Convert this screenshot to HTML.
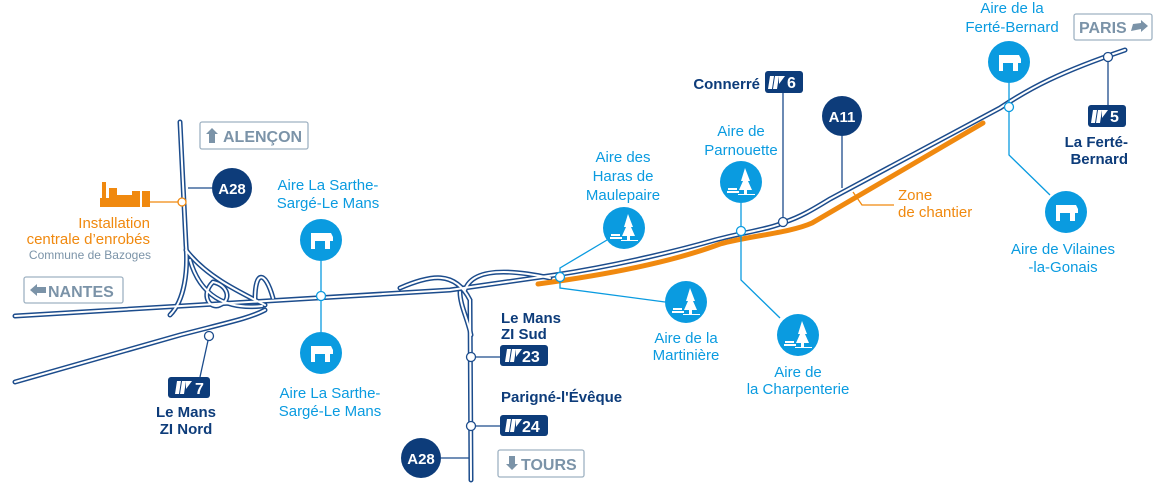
<!DOCTYPE html>
<html><head><meta charset="utf-8"><style>
html,body{margin:0;padding:0;background:#fff;}
svg{display:block;font-family:"Liberation Sans",sans-serif;}
.lb{fill:#0a9be0;font-size:15px;}
.db{fill:#0d3c7a;font-size:15px;font-weight:bold;}
.sg{fill:#7b93a8;font-size:16px;font-weight:bold;}
</style></head><body>
<svg width="1162" height="486" viewBox="0 0 1162 486" xmlns="http://www.w3.org/2000/svg">
<defs>
<g id="rest"><circle r="21" fill="#0a9be0"/><path d="M-10,-7 L10,-7 L12,-3 L12,1 L9,1 L9,9 L4,9 L4,1 L-6,1 L-6,9 L-10,9 Z M-5,3 L0,3 L0,6 L-5,6Z" fill="#fff" fill-rule="evenodd"/><rect x="-6" y="3" width="7" height="3" fill="#0a9be0"/></g>
<g id="tree"><circle r="21" fill="#0a9be0"/><path d="M4,-14 L9,-1 L7,-1 L11,8 L6,8 L6,12 L3,12 L3,8 L-2,8 L2,-1 L0,-1 Z" fill="#fff"/><path d="M-14,9 L-2,9 L-2,11 L-14,11 Z M-13,6 L-4,6 L-4,8 L-13,8Z M-3,12 L14,12 L14,13 L-3,13Z" fill="#fff"/></g>
<g id="exi"><path d="M3,4 L7,4 L5,17 L1,17Z M8,4 L12,4 L10,17 L6,17Z M12,4 L18,4 L12,12Z" fill="#fff"/></g>
</defs>

<!-- roads -->
<g fill="none" stroke-linecap="round">
<g stroke="#1c4c8c" stroke-width="5">
<path d="M15,316 L450,290 L555,275 C620,265 680,250 715,240 C745,232 770,229 785,222 C800,217 812,210 830,199 L1000,108 C1030,88 1060,72 1125,50"/>
<path d="M15,382 L180,335 C230,322 250,318 265,310"/>
<path d="M180,122 L186,245 C188,270 185,300 170,315"/>
<path d="M186,250 C205,275 235,290 265,305"/>
<path d="M190,260 C200,295 225,310 262,306"/>
<path d="M213,282 C200,295 210,310 220,305 C232,300 228,285 213,282"/>
<path d="M255,300 C255,270 265,270 273,298"/>
<path d="M400,288 C430,275 455,270 470,300 L471,480"/>
<path d="M465,290 C470,275 490,265 550,278"/>
<path d="M460,292 C460,305 468,320 471,335"/>
</g>
<g stroke="#fff" stroke-width="2">
<path d="M15,316 L450,290 L555,275 C620,265 680,250 715,240 C745,232 770,229 785,222 C800,217 812,210 830,199 L1000,108 C1030,88 1060,72 1125,50"/>
<path d="M15,382 L180,335 C230,322 250,318 265,310"/>
<path d="M180,122 L186,245 C188,270 185,300 170,315"/>
<path d="M186,250 C205,275 235,290 265,305"/>
<path d="M190,260 C200,295 225,310 262,306"/>
<path d="M213,282 C200,295 210,310 220,305 C232,300 228,285 213,282"/>
<path d="M255,300 C255,270 265,270 273,298"/>
<path d="M400,288 C430,275 455,270 470,300 L471,480"/>
<path d="M465,290 C470,275 490,265 550,278"/>
<path d="M460,292 C460,305 468,320 471,335"/>
</g>
<path d="M538,284 C620,273 680,259 720,244 C748,236 790,233 812,223 L983,123" stroke="#f0890f" stroke-width="5"/>
</g>

<!-- connector lines -->
<g stroke="#0a9be0" stroke-width="1.3" fill="none">
<path d="M321,261 L321,332"/>
<path d="M607,240 L560,268 L560,288 L665,302"/>
<path d="M741,203 L741,280 L780,318"/>
<path d="M1009,83 L1009,155 L1050,195"/>
</g>
<g stroke="#1c4c8c" stroke-width="1.3" fill="none">
<path d="M188,188 L212,188"/><path d="M200,377 L209,336"/>
<path d="M471,357 L500,357"/><path d="M471,426 L500,426"/><path d="M441,458 L469,458"/>
<path d="M783,93 L783,222"/><path d="M842,136 L842,188"/><path d="M1108,57 L1108,105"/>
</g>
<path d="M150,202 L182,202" stroke="#f0890f" stroke-width="1.3"/>
<path d="M853,192 L862,205 L894,205" stroke="#f0890f" stroke-width="1.3" fill="none"/>
<g fill="#fff" stroke="#1c4c8c" stroke-width="1.3">
<circle cx="321" cy="296" r="4.5" stroke="#0a9be0"/><circle cx="209" cy="336" r="4.5"/>
<circle cx="471" cy="357" r="4.5"/><circle cx="471" cy="426" r="4.5"/>
<circle cx="560" cy="277" r="4.5" stroke="#0a9be0"/><circle cx="741" cy="231" r="4.5" stroke="#0a9be0"/>
<circle cx="783" cy="222" r="4.5"/><circle cx="1009" cy="107" r="4.5" stroke="#0a9be0"/>
<circle cx="1108" cy="57" r="4.5"/><circle cx="182" cy="202" r="4" stroke="#f0890f"/>
</g>

<!-- factory -->
<path d="M100,207 L100,198 L102,198 L102,182 L106,182 L106,198 L109,198 L109,188 L117,188 L117,195 L132,195 L132,207 Z" fill="#f0890f"/>
<rect x="132" y="191" width="8" height="16" fill="#f0890f"/><rect x="142" y="191" width="8" height="16" fill="#f0890f"/>
<text x="150" y="228" text-anchor="end" fill="#f0890f" font-size="15">Installation</text>
<text x="150" y="244" text-anchor="end" fill="#f0890f" font-size="15">centrale d’enrobés</text>
<text x="151" y="259" text-anchor="end" fill="#7b93a8" font-size="12">Commune de Bazoges</text>

<!-- signs -->
<g fill="#fff" stroke="#9fb2c2" stroke-width="1.3">
<rect x="200" y="122" width="108" height="27" rx="2"/><rect x="24" y="277" width="99" height="26" rx="2"/>
<rect x="498" y="450" width="86" height="27" rx="2"/><rect x="1074" y="14" width="78" height="26" rx="2"/>
</g>
<path d="M212,128 L218,134 L215,134 L215,143 L209,143 L209,134 L206,134Z" fill="#7b93a8"/>
<text x="223" y="142" class="sg">ALENÇON</text>
<path d="M30,290 L37,284 L37,287 L46,287 L46,293 L37,293 L37,296Z" fill="#7b93a8"/>
<text x="48" y="297" class="sg">NANTES</text>
<path d="M512,470 L518,464 L515,464 L515,456 L509,456 L509,464 L506,464Z" fill="#7b93a8"/>
<text x="521" y="470" class="sg">TOURS</text>
<text x="1079" y="33" class="sg">PARIS</text>
<path d="M1148,26 L1141,20 L1141,23 L1133,24 L1131,31 L1141,29 L1141,32Z" fill="#7b93a8"/>

<!-- motorway circles -->
<g fill="#0d3c7a"><circle cx="232" cy="188" r="20"/><circle cx="421" cy="458" r="20"/><circle cx="842" cy="116" r="20"/></g>
<g fill="#fff" font-size="15" font-weight="bold" text-anchor="middle">
<text x="232" y="194">A28</text><text x="421" y="464">A28</text><text x="842" y="122">A11</text></g>

<!-- exit badges -->
<g fill="#0d3c7a">
<rect x="168" y="377" width="42" height="21" rx="3"/><rect x="500" y="345" width="48" height="21" rx="3"/>
<rect x="500" y="415" width="48" height="21" rx="3"/><rect x="765" y="71" width="38" height="22" rx="3"/>
<rect x="1088" y="105" width="38" height="22" rx="3"/></g>
<use href="#exi" x="174" y="377"/><use href="#exi" x="504" y="345"/><use href="#exi" x="504" y="415"/>
<use href="#exi" x="767" y="72"/><use href="#exi" x="1090" y="106"/>
<g fill="#fff" font-size="16" font-weight="bold">
<text x="195" y="394">7</text><text x="522" y="362">23</text><text x="522" y="432">24</text>
<text x="787" y="88">6</text><text x="1110" y="122">5</text></g>

<!-- aire icons -->
<use href="#rest" x="321" y="240"/><use href="#rest" x="321" y="353"/>
<use href="#rest" x="1009" y="62"/><use href="#rest" x="1066" y="212"/>
<use href="#tree" x="624" y="228"/><use href="#tree" x="686" y="302"/>
<use href="#tree" x="741" y="182"/><use href="#tree" x="798" y="335"/>

<!-- labels -->
<g class="lb" text-anchor="middle">
<text x="328" y="190" class="lb">Aire La Sarthe-</text><text x="328" y="208" class="lb">Sargé-Le Mans</text>
<text x="330" y="398" class="lb">Aire La Sarthe-</text><text x="330" y="416" class="lb">Sargé-Le Mans</text>
<text x="623" y="162" class="lb">Aire des</text><text x="623" y="181" class="lb">Haras de</text><text x="623" y="200" class="lb">Maulepaire</text>
<text x="686" y="343" class="lb">Aire de la</text><text x="686" y="360" class="lb">Martinière</text>
<text x="741" y="136" class="lb">Aire de</text><text x="741" y="155" class="lb">Parnouette</text>
<text x="798" y="377" class="lb">Aire de</text><text x="798" y="394" class="lb">la Charpenterie</text>
<text x="1012" y="13" class="lb">Aire de la</text><text x="1012" y="32" class="lb">Ferté-Bernard</text>
<text x="1063" y="254" class="lb">Aire de Vilaines</text><text x="1063" y="272" class="lb">-la-Gonais</text>
</g>
<text x="898" y="200" fill="#f0890f" font-size="15">Zone</text>
<text x="898" y="217" fill="#f0890f" font-size="15">de chantier</text>
<g class="db">
<text x="186" y="417" text-anchor="middle" class="db">Le Mans</text><text x="186" y="434" text-anchor="middle" class="db">ZI Nord</text>
<text x="501" y="323" class="db">Le Mans</text><text x="501" y="339" class="db">ZI Sud</text>
<text x="501" y="402" class="db">Parigné-l'Évêque</text>
<text x="760" y="89" text-anchor="end" class="db">Connerré</text>
<text x="1128" y="147" text-anchor="end" class="db">La Ferté-</text><text x="1128" y="164" text-anchor="end" class="db">Bernard</text>
</g>
</svg>
</body></html>
